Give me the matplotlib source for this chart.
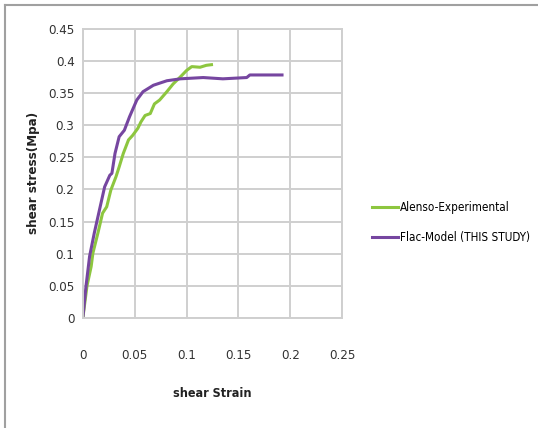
import matplotlib.pyplot as plt
from matplotlib.lines import Line2D

plt.rcParams['font.family'] = ['DejaVu Sans']
plt.rcParams['font.stretch'] = 'condensed'

# Alenso-Experimental
exp_strain = [0.0, 0.004, 0.008, 0.0097, 0.0145, 0.019, 0.023, 0.027, 0.032, 0.035, 0.039,
              0.044, 0.048, 0.053, 0.056, 0.060, 0.065, 0.069, 0.074, 0.081, 0.087,
              0.094, 0.100, 0.105, 0.113, 0.119, 0.124]
exp_stress = [0.0, 0.05, 0.08, 0.101, 0.132, 0.163, 0.173, 0.199, 0.220, 0.235, 0.256,
              0.277, 0.284, 0.295, 0.305, 0.315, 0.318, 0.333, 0.339, 0.352, 0.364,
              0.375, 0.385, 0.391, 0.390, 0.393, 0.394]

# Flac-Model (THIS STUDY)
flac_strain = [0.0, 0.003, 0.0065, 0.011, 0.016, 0.021, 0.026, 0.028, 0.031, 0.035, 0.040,
               0.045, 0.052, 0.058, 0.068, 0.081, 0.094, 0.116, 0.135, 0.158, 0.161, 0.192]
flac_stress = [0.0, 0.049, 0.096, 0.132, 0.168, 0.204, 0.222, 0.225, 0.256, 0.282, 0.292,
               0.313, 0.339, 0.352, 0.362, 0.369, 0.372, 0.374, 0.372, 0.374, 0.378, 0.378]

fig = plt.figure(figsize=(5.38, 4.28), dpi=100)
ax = fig.add_axes([0.154, 0.257, 0.482, 0.676])

ax.plot(exp_strain, exp_stress, color="#8DC63F", lw=2.2, label="Alenso-Experimental")
ax.plot(flac_strain, flac_stress, color="#7646A0", lw=2.2, label="Flac-Model (THIS STUDY)")

ax.set_xlim(0, 0.25)
ax.set_ylim(0, 0.45)
ax.set_xticks([0, 0.05, 0.1, 0.15, 0.2, 0.25])
ax.set_xticklabels(["0", "0.05", "0.1", "0.15", "0.2", "0.25"])
ax.set_yticks([0, 0.05, 0.1, 0.15, 0.2, 0.25, 0.3, 0.35, 0.4, 0.45])
ax.set_yticklabels(["0", "0.05", "0.1", "0.15", "0.2", "0.25", "0.3", "0.35", "0.4", "0.45"])
ax.grid(True, color="#cfcfcf", lw=1.4)
ax.set_axisbelow(True)
for s in ax.spines.values():
    s.set_color("#cfcfcf")
    s.set_linewidth(1.4)
ax.tick_params(length=0, labelsize=9.5, colors="#333333")
ax.tick_params(axis="x", pad=22)
ax.tick_params(axis="y", pad=6)

ax.set_xlabel("shear Strain", fontsize=9, fontweight="bold", labelpad=18, color="#222222")
ax.set_ylabel("shear stress(Mpa)", fontsize=9.5, fontweight="bold", labelpad=6, color="#222222")

fig.legend(loc="center left", bbox_to_anchor=(0.692, 0.48), frameon=False, fontsize=8.4,
           handlelength=2.2, handletextpad=0.2, labelspacing=1.45, borderpad=0, borderaxespad=0)

# outer border of the original picture
fig.add_artist(Line2D([0.009, 0.009], [0, 0.988], color="#a0a0a0", lw=1.5, transform=fig.transFigure))
fig.add_artist(Line2D([0.009, 1.0], [0.988, 0.988], color="#a0a0a0", lw=1.5, transform=fig.transFigure))

plt.savefig("out.png", dpi=100)
